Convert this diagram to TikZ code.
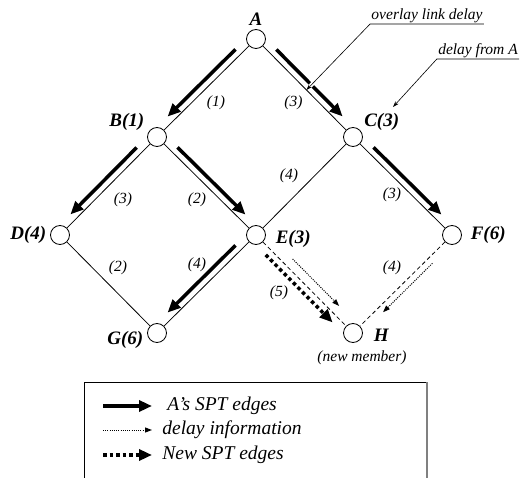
\documentclass[tikz,border=0pt]{standalone}
\usepackage{fontspec}
\setmainfont{Liberation Serif}
\usetikzlibrary{arrows.meta, calc, positioning}

\begin{document}
\begin{tikzpicture}[x=1pt, y=-1pt, line width=0.8pt]
  \tikzset{
    peer/.style={
      circle,
      draw=black,
      fill=white,
      minimum size=19pt,
      inner sep=0pt},
    nlbl/.style={
      font=\fontsize{19}{19}\selectfont\bfseries\itshape,
      inner sep=1pt},
    dly/.style={
      font=\fontsize{15.5}{16}\selectfont\itshape,
      inner sep=0pt},
    keytext/.style={
      font=\fontsize{19.5}{20}\selectfont\itshape,
      anchor=west,
      inner sep=0pt},
    link/.style={
      line width=0.8pt},
    newlink/.style={
      line width=0.8pt,
      dash pattern=on 4pt off 3pt},
    spt/.style={
      line width=3.5pt,
      -{Triangle[length=13pt,width=11pt]}},
    info/.style={
      line width=1pt,
      dash pattern=on 1pt off 1.2pt,
      -{Triangle[length=7pt,width=5pt]}},
    newspt/.style={
      line width=3.5pt,
      dash pattern=on 3.5pt off 3pt,
      -{Triangle[length=13pt,width=11pt]}},
    pointer/.style={
      line width=0.6pt,
      -{Stealth[length=6pt,width=4pt]}},
    upl/.style={transform canvas={shift={(-5pt,5pt)}}},
    upr/.style={transform canvas={shift={(5pt,5pt)}}}}

  \useasboundingbox (0,0) rectangle (522,478);

  % overlay peers
  \node[peer, label={[nlbl,label distance=2pt]above:A}] (A) at (256,39) {};
  \node[peer, label={[nlbl,label distance=1.5pt,yshift=15pt]left:B(1)}] (B) at (157,137) {};
  \node[peer, label={[nlbl,label distance=0pt,yshift=15pt]right:C(3)}] (C) at (353,137) {};
  \node[peer, label={[nlbl,label distance=2.5pt]left:D(4)}] (D) at (60,235) {};
  \node[peer, label={[nlbl,label distance=8.5pt,yshift=-4pt]right:E(3)}] (E) at (256,235) {};
  \node[peer, label={[nlbl,label distance=7.5pt]right:F(6)}] (F) at (452,235) {};
  \node[peer, label={[nlbl,label distance=2.5pt,yshift=-7pt]left:G(6)}] (G) at (157,333) {};
  \node[peer, label={[nlbl,label distance=9.5pt,yshift=-2pt]right:H},
    label={[dly,label distance=7pt,xshift=9pt]below:(new member)}] (H) at (353,333) {};

  % overlay links
  \path[link] (A) edge (B)
              (A) edge (C)
              (B) edge (D)
              (B) edge (E)
              (C) edge (E)
              (C) edge (F)
              (D) edge (G)
              (E) edge (G);
  \path[newlink] (E) edge (H)
                 (F) edge (H);

  % link delays
  \path (A) -- node[dly, shift={(9.5,15)}] {(1)} (B);
  \path (A) -- node[dly, shift={(-11,15)}] {(3)} (C);
  \path (B) -- node[dly, shift={(14.5,14)}] {(3)} (D);
  \path (B) -- node[dly, shift={(-9.5,14)}] {(2)} (E);
  \path (C) -- node[dly, shift={(-15.5,-10)}] {(4)} (E);
  \path (C) -- node[dly, shift={(-10.5,9)}] {(3)} (F);
  \path (D) -- node[dly, shift={(9.5,-16)}] {(2)} (G);
  \path (E) -- node[dly, shift={(-9.5,-19)}] {(4)} (G);
  \path (E) -- node[dly, shift={(-25.5,9)}] {(5)} (H);
  \path (F) -- node[dly, shift={(-10.5,-16)}] {(4)} (H);

  % SPT of A
  \draw[spt, upl, shorten <=12pt, shorten >=12pt] (A) -- (B);
  \draw[spt, upr, shorten <=12pt, shorten >=12pt] (A) -- (C);
  \draw[spt, upl, shorten <=12pt, shorten >=12pt] (B) -- (D);
  \draw[spt, upr, shorten <=12pt, shorten >=12pt] (B) -- (E);
  \draw[spt, upr, shorten <=12pt, shorten >=12pt] (C) -- (F);
  \draw[spt, upl, shorten <=12pt, shorten >=12pt] (E) -- (G);

  % joining H
  \draw[newspt, transform canvas={shift={(-5pt,-5pt)}},
    shorten <=11pt, shorten >=12pt] (E) -- (H);
  \draw[info, transform canvas={shift={(6.5pt,6.5pt)}},
    shorten <=33pt, shorten >=19pt] (E) -- (H);
  \draw[info, transform canvas={shift={(4.5pt,-4.5pt)}},
    shorten <=24pt, shorten >=26pt] (F) -- (H);

  % notes
  \node[dly, anchor=south, inner sep=1pt] (ovl) at (427,24) {overlay link delay};
  \coordinate (ovlend) at ($(A)!0.52!(C)$);
  \draw[white, line width=4pt, shorten >=4pt] (ovl.south west) -- (ovlend);
  \draw[pointer] (ovl.south east) -- (ovl.south west) -- (ovlend);
  \node[dly, anchor=south, inner sep=1pt] (dfa) at (478,59) {delay from A};
  \coordinate (dfaend) at ($(C)+(40,-30)$);
  \draw[pointer] (dfa.south east) -- (dfa.south west) -- (dfaend);

  % legend
  \draw (84,478) |- (427,382);
  \draw[gray, line width=1.5pt] (427,382) -- (427,478);
  \coordinate (k1) at (103,406);
  \coordinate (k2) at (103,430);
  \coordinate (k3) at (103,455);
  \node[keytext] (t1) at (167,406) {A’s SPT edges};
  \node[keytext] (t2) at (162,430) {delay information};
  \node[keytext] (t3) at (162,455) {New SPT edges};
  \draw[spt, shorten >=15pt] (k1) -- (t1);
  \draw[info, shorten >=10pt] (k2) -- (t2);
  \draw[newspt, shorten >=10pt] (k3) -- (t3);

\end{tikzpicture}
\end{document}
